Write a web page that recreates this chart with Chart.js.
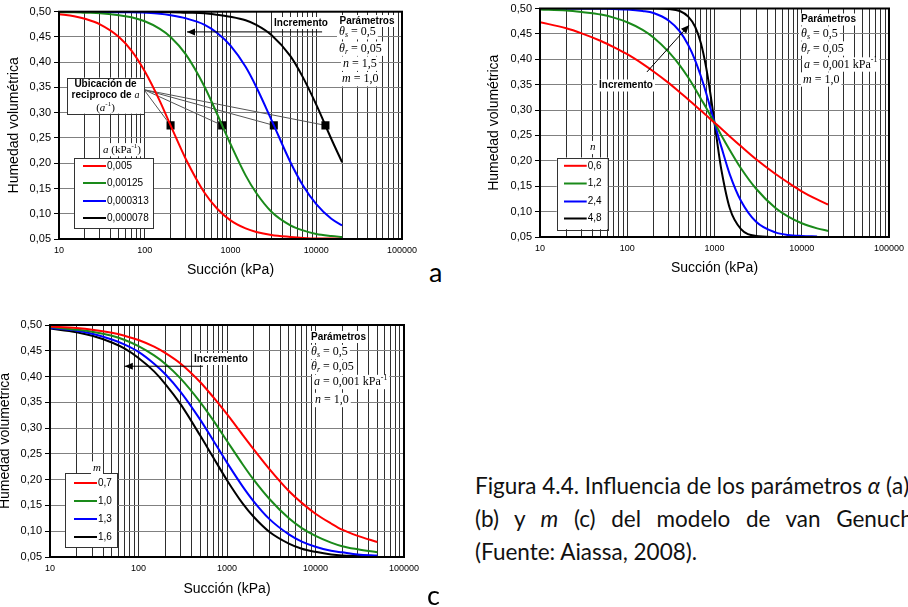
<!DOCTYPE html>
<html>
<head>
<meta charset="utf-8">
<script src="https://cdn.jsdelivr.net/npm/chart.js@4.4.1/dist/chart.umd.min.js"></script>
<style>
  body { margin: 0; width: 908px; height: 607px; overflow: hidden; background: #fff; position: relative; }
  .panel { position: absolute; }
  .letra { position: absolute; font: 27px Lato, sans-serif; line-height: 27px; color: #000; }
  #caption { position: absolute; left: 475px; top: 469px; width: 470px; font: 22.5px Lato, sans-serif; line-height: 33px; color: #111; }
  #caption div { white-space: nowrap; }
  #caption .just { white-space: normal; text-align: justify; text-align-last: justify; }
</style>
</head>
<body>
<div class="panel" style="left:0;top:0;width:427px;height:285px"><canvas id="chartA"></canvas></div>
<div class="panel" style="left:480px;top:0;width:434px;height:285px"><canvas id="chartB"></canvas></div>
<div class="panel" style="left:0;top:310px;width:429px;height:297px"><canvas id="chartC"></canvas></div>
<div class="letra" style="left:429px;top:258px">a</div>
<div class="letra" style="left:427px;top:581px">c</div>
<div id="caption">
  <div>Figura 4.4. Influencia de los parámetros <i>α</i> (a), <i>n</i></div>
  <div class="just">(b) y <i>m</i> (c) del modelo de van Genuchten</div>
  <div>(Fuente: Aiassa, 2008).</div>
</div>
<script>
// Curvas de retención - modelo de van Genuchten

// ---- Gráfico a: influencia de alfa ----
const succionA = [10, 15, 20, 30, 50, 70, 100, 150, 200, 300, 500, 700, 1000, 1500, 2000, 3000, 5000, 7000, 10000, 15000, 20000];
const humA_0005 = [0.495, 0.491, 0.486, 0.475, 0.450, 0.423, 0.382, 0.323, 0.275, 0.209, 0.141, 0.110, 0.087, 0.071, 0.064, 0.058, 0.054, 0.052, 0.051, 0.051, 0.050];
const humA_000125 = [0.499, 0.499, 0.498, 0.497, 0.493, 0.489, 0.481, 0.466, 0.450, 0.416, 0.351, 0.297, 0.238, 0.176, 0.141, 0.104, 0.077, 0.067, 0.060, 0.056, 0.054];
const humA_0000313 = [0.500, 0.500, 0.500, 0.500, 0.499, 0.499, 0.498, 0.496, 0.493, 0.487, 0.474, 0.458, 0.433, 0.391, 0.351, 0.286, 0.202, 0.156, 0.119, 0.090, 0.077];
const humA_0000078 = [0.500, 0.500, 0.500, 0.500, 0.500, 0.500, 0.500, 0.499, 0.499, 0.498, 0.497, 0.494, 0.490, 0.483, 0.474, 0.454, 0.412, 0.370, 0.316, 0.248, 0.202];
const alfaLabels = ['0,005', '0,00125', '0,000313', '0,000078'];
const reciprocoA = [200, 800, 3200, 12800];   // 1/alfa (kPa)
const humReciproco = 0.275;

// ---- Gráfico b: influencia de n ----
const succionB = [10, 20, 30, 50, 70, 100, 150, 200, 300, 400, 500, 600, 700, 800, 900, 1000, 1100, 1200, 1500, 2000, 3000, 5000, 7000, 10000, 15000, 20000];
const humB_06 = [0.473, 0.461, 0.451, 0.436, 0.424, 0.410, 0.391, 0.376, 0.353, 0.335, 0.321, 0.309, 0.299, 0.290, 0.282, 0.275, 0.269, 0.263, 0.248, 0.229, 0.203, 0.174, 0.157, 0.140, 0.124, 0.114];
const humB_12 = [0.498, 0.496, 0.493, 0.488, 0.482, 0.473, 0.458, 0.443, 0.414, 0.388, 0.364, 0.342, 0.322, 0.305, 0.289, 0.275, 0.262, 0.250, 0.221, 0.186, 0.145, 0.107, 0.090, 0.077, 0.067, 0.062];
const humB_24 = [0.500, 0.500, 0.500, 0.500, 0.499, 0.498, 0.495, 0.491, 0.476, 0.455, 0.428, 0.398, 0.366, 0.334, 0.303, 0.275, 0.249, 0.227, 0.173, 0.122, 0.080, 0.059, 0.054, 0.052, 0.051, null];
const humB_48 = [0.500, 0.500, 0.500, 0.500, 0.500, 0.500, 0.500, 0.500, 0.499, 0.495, 0.484, 0.464, 0.431, 0.385, 0.331, 0.275, 0.224, 0.182, 0.106, 0.066, 0.052, 0.050, null, null, null, null];
const nLabels = ['0,6', '1,2', '2,4', '4,8'];

// ---- Gráfico c: influencia de m ----
const succionC = [10, 20, 30, 50, 70, 100, 150, 200, 300, 500, 700, 1000, 1500, 2000, 3000, 5000, 7000, 10000, 15000, 20000, 30000, 50000];
const humC_07 = [0.497, 0.494, 0.491, 0.485, 0.479, 0.471, 0.458, 0.446, 0.425, 0.389, 0.360, 0.327, 0.287, 0.259, 0.221, 0.178, 0.155, 0.134, 0.115, 0.103, 0.091, 0.079];
const humC_10 = [0.496, 0.491, 0.487, 0.479, 0.471, 0.459, 0.441, 0.425, 0.396, 0.350, 0.315, 0.275, 0.230, 0.200, 0.163, 0.125, 0.106, 0.091, 0.078, 0.071, 0.065, 0.059];
const humC_13 = [0.494, 0.489, 0.483, 0.472, 0.462, 0.448, 0.425, 0.405, 0.370, 0.316, 0.276, 0.233, 0.187, 0.158, 0.124, 0.094, 0.080, 0.070, 0.062, 0.059, 0.055, 0.053];
const humC_16 = [0.493, 0.486, 0.479, 0.466, 0.454, 0.436, 0.410, 0.386, 0.346, 0.285, 0.243, 0.199, 0.154, 0.128, 0.099, 0.076, 0.066, 0.060, 0.055, 0.053, 0.052, 0.051];
const mLabels = ['0,7', '1,0', '1,3', '1,6'];

// Ejes
const xTickLabels = [10, 100, 1000, 10000, 100000];
const yTicks = [0.05, 0.10, 0.15, 0.20, 0.25, 0.30, 0.35, 0.40, 0.45, 0.50];
const curveColors = ['#ff0000', '#1a8a1a', '#0000ff', '#000000'];

// lineas de grilla: 1..9 por cada decada
const xGrid = [];
for (let d = 10; d < 100000; d *= 10) {
  for (let k = 1; k <= 9; k++) xGrid.push(k * d);
}
xGrid.push(100000);

const SERIF = "'Liberation Serif', 'DejaVu Serif', serif";
const SANS = "'Liberation Sans', Arial, sans-serif";
Chart.defaults.font.family = SANS;
Chart.defaults.color = '#000';

// Texto con partes en cursiva / subindice / superindice
function rich(ctx, x, y, segs, size, align, bg) {
  const fontOf = k => k === 'i' ? 'italic ' + size + 'px ' + SERIF :
    k === 'sub' ? 'italic ' + Math.round(size * 0.7) + 'px ' + SERIF :
    k === 'sup' ? Math.round(size * 0.65) + 'px ' + SERIF :
    k === 'b' ? 'bold ' + size + 'px ' + SANS :
    k === 's' ? size + 'px ' + SANS : size + 'px ' + SERIF;
  let w = 0;
  const widths = segs.map(([t, k]) => {
    ctx.font = fontOf(k);
    const m = ctx.measureText(t).width;
    w += m;
    return m;
  });
  let x0 = align === 'center' ? x - w / 2 : x;
  if (bg) {
    ctx.fillStyle = '#fff';
    ctx.fillRect(x0 - 2, y - size * 0.6, w + 4, size * 1.2);
  }
  ctx.fillStyle = '#000';
  ctx.textAlign = 'left';
  ctx.textBaseline = 'middle';
  segs.forEach(([t, k], i) => {
    ctx.font = fontOf(k);
    const dy = k === 'sub' ? size * 0.25 : k === 'sup' ? -size * 0.35 : 0;
    ctx.fillText(t, x0, y + dy);
    x0 += widths[i];
  });
  return w;
}

function arrow(ctx, a, b) {
  ctx.strokeStyle = '#000';
  ctx.lineWidth = 1;
  ctx.beginPath();
  ctx.moveTo(a[0], a[1]);
  ctx.lineTo(b[0], b[1]);
  ctx.stroke();
  const ang = Math.atan2(b[1] - a[1], b[0] - a[0]);
  const L = 8, W = 3.5;
  ctx.beginPath();
  ctx.moveTo(b[0], b[1]);
  ctx.lineTo(b[0] - L * Math.cos(ang) + W * Math.sin(ang), b[1] - L * Math.sin(ang) - W * Math.cos(ang));
  ctx.lineTo(b[0] - L * Math.cos(ang) - W * Math.sin(ang), b[1] - L * Math.sin(ang) + W * Math.cos(ang));
  ctx.closePath();
  ctx.fillStyle = '#000';
  ctx.fill();
}

function legendBox(ctx, R, spec, labels) {
  const p1 = R(spec.box[0], spec.box[1]);
  const p2 = R(spec.box[2], spec.box[3]);
  ctx.fillStyle = '#fff';
  ctx.fillRect(p1[0], p1[1], p2[0] - p1[0], p2[1] - p1[1]);
  ctx.strokeStyle = '#333';
  ctx.lineWidth = 1;
  ctx.strokeRect(Math.round(p1[0]) + 0.5, Math.round(p1[1]) + 0.5, Math.round(p2[0] - p1[0]), Math.round(p2[1] - p1[1]));
  const tp = R(spec.title[0], spec.title[1]);
  rich(ctx, tp[0], tp[1], spec.titleSegs, 11, 'center', true);
  labels.forEach((lab, i) => {
    const y = R(0, spec.rows[i])[1];
    const x1 = R(spec.line[0], 0)[0], x2 = R(spec.line[1], 0)[0];
    ctx.strokeStyle = curveColors[i];
    ctx.lineWidth = 2;
    ctx.beginPath();
    ctx.moveTo(x1, y);
    ctx.lineTo(x2, y);
    ctx.stroke();
    ctx.font = '10px ' + SANS;
    ctx.fillStyle = '#000';
    ctx.textAlign = 'left';
    ctx.textBaseline = 'middle';
    ctx.fillText(lab, x2 + 1, y);
  });
}

function params(ctx, R, spec) {
  const h = R(spec.head[0], spec.head[1]);
  rich(ctx, h[0], h[1], [['Parámetros', 'b']], 10, spec.headAlign, true);
  spec.lines.forEach(ln => {
    const p = R(ln.x, ln.y);
    rich(ctx, p[0], p[1], ln.segs, 12, 'left', true);
  });
}

function helpers(chart) {
  const ca = chart.chartArea;
  return {
    P: (x, y) => [chart.scales.x.getPixelForValue(x), chart.scales.y.getPixelForValue(y)],
    R: (dx, dy) => [ca.left + dx, ca.top + dy]
  };
}

// anotaciones propias de cada grafico (fuera de options para que no se resuelvan como scriptable)
function notesPlugin(notes) {
  return {
    id: 'notes',
    beforeDatasetsDraw(chart) {
      if (notes.under) {
        chart.ctx.save();
        notes.under(chart.ctx, helpers(chart));
        chart.ctx.restore();
      }
    },
    afterDatasetsDraw(chart) {
      const ctx = chart.ctx, ca = chart.chartArea;
      ctx.save();
      ctx.strokeStyle = '#000';
      ctx.lineWidth = 2;
      ctx.strokeRect(ca.left, ca.top, ca.right - ca.left, ca.bottom - ca.top);
      if (notes.over) notes.over(ctx, helpers(chart));
      ctx.restore();
    }
  };
}

function serie(xs, ys, i) {
  return {
    data: xs.map((x, k) => ({ x: x, y: ys[k] })),
    borderColor: curveColors[i],
    borderWidth: 2,
    pointRadius: 0,
    fill: false,
    cubicInterpolationMode: 'monotone'
  };
}

function buildChart(id, datasets, lay, notes) {
  return new Chart(document.getElementById(id), {
    type: 'line',
    data: { datasets: datasets },
    options: {
      responsive: true,
      maintainAspectRatio: false,
      animation: false,
      layout: { padding: { left: 0, top: lay.top, right: 25, bottom: 0 } },
      plugins: {
        legend: { display: false },
        tooltip: { enabled: false }
      },
      scales: {
        x: {
          type: 'logarithmic',
          min: 10,
          max: 100000,
          afterBuildTicks: s => { s.ticks = xGrid.map(v => ({ value: v })); },
          afterFit: s => { s.height = lay.xh; },
          ticks: {
            autoSkip: false,
            maxRotation: 0,
            minRotation: 0,
            padding: 6,
            font: { size: 9 },
            color: '#000',
            callback: v => xTickLabels.includes(v) ? String(v) : ''
          },
          grid: { color: '#2e2e2e', lineWidth: 1, drawTicks: false },
          border: { color: '#000', width: 2 },
          title: {
            display: true,
            text: 'Succión (kPa)',
            color: '#000',
            font: { size: 14, lineHeight: 1 },
            padding: { top: 0, bottom: lay.xtp }
          }
        },
        y: {
          min: 0.05,
          max: 0.5,
          afterBuildTicks: s => { s.ticks = yTicks.map(v => ({ value: v })); },
          afterFit: s => { s.width = lay.yw; },
          ticks: {
            padding: 3,
            font: { size: 11, lineHeight: 1 },
            color: '#000',
            callback: v => v.toFixed(2).replace('.', ',')
          },
          grid: { color: '#808080', lineWidth: 1, drawTicks: true, tickLength: 5, tickColor: '#000' },
          border: { color: '#000', width: 2 },
          title: {
            display: true,
            text: 'Humedad volumétrica',
            color: '#000',
            font: { size: 14, lineHeight: 1 },
            padding: { top: lay.ytp, bottom: 0 }
          }
        }
      }
    },
    plugins: [notesPlugin(notes)]
  });
}

// ---------- a ----------
const notesA = {
  under(ctx, { P, R }) {
    ctx.strokeStyle = '#555';
    ctx.lineWidth = 1;
    const o = R(85, 78);
    reciprocoA.forEach(r => {
      const p = P(r, humReciproco);
      ctx.beginPath();
      ctx.moveTo(o[0], o[1]);
      ctx.lineTo(p[0], p[1]);
      ctx.stroke();
    });
  },
  over(ctx, { P, R }) {
    // caja "Ubicación de recíproco"
    const b1 = R(8, 66), b2 = R(85, 102);
    ctx.fillStyle = '#fff';
    ctx.fillRect(b1[0], b1[1], b2[0] - b1[0], b2[1] - b1[1]);
    ctx.strokeStyle = '#333';
    ctx.lineWidth = 1;
    ctx.strokeRect(Math.round(b1[0]) + 0.5, Math.round(b1[1]) + 0.5, Math.round(b2[0] - b1[0]), Math.round(b2[1] - b1[1]));
    const c = R(46.5, 73);
    rich(ctx, c[0], c[1], [['Ubicación de', 'b']], 10, 'center', false);
    rich(ctx, c[0], c[1] + 10.5, [['reciproco de ', 'b'], ['a', 'i']], 10, 'center', false);
    rich(ctx, c[0], c[1] + 23, [['(', 'r'], ['a', 'i'], ['-1', 'sup'], [')', 'r']], 11, 'center', false);

    // Incremento
    arrow(ctx, P(11700, 0.46), P(311, 0.46));
    const t = R(242, 11.3);
    rich(ctx, t[0], t[1], [['Incremento', 'b']], 10, 'center', true);

    params(ctx, R, {
      head: [308, 9.3], headAlign: 'center',
      lines: [
        { x: 280, y: 20.5, segs: [['θ', 'i'], ['s', 'sub'], [' = 0,5', 'r']] },
        { x: 280, y: 37, segs: [['θ', 'i'], ['r', 'sub'], [' = 0,05', 'r']] },
        { x: 284, y: 52, segs: [['n', 'i'], [' = 1,5', 'r']] },
        { x: 283, y: 67.5, segs: [['m', 'i'], [' = 1,0', 'r']] }
      ]
    });

    legendBox(ctx, R, {
      box: [15, 146.5, 94, 216.5],
      title: [63, 138],
      titleSegs: [['a', 'i'], [' (kPa', 'r'], ['-1', 'sup'], [')', 'r']],
      line: [24, 47],
      rows: [154.3, 171.3, 189.3, 206.3]
    }, alfaLabels);
  }
};

const dsA = [
  serie(succionA, humA_0005, 0),
  serie(succionA, humA_000125, 1),
  serie(succionA, humA_0000313, 2),
  serie(succionA, humA_0000078, 3),
  {
    type: 'scatter',
    data: reciprocoA.map(r => ({ x: r, y: humReciproco })),
    pointStyle: 'rect',
    pointRadius: 5.7,
    backgroundColor: '#000',
    borderWidth: 0,
    showLine: false
  }
];
buildChart('chartA', dsA, { top: 11.7, yw: 59, xh: 46, xtp: 8, ytp: 7 }, notesA);

// ---------- b ----------
const notesB = {
  over(ctx, { P, R }) {
    arrow(ctx, P(168, 0.375), P(509, 0.467));
    const t = R(86, 77);
    rich(ctx, t[0], t[1], [['Incremento', 'b']], 10, 'center', true);
    params(ctx, R, {
      head: [261, 11], headAlign: 'left',
      lines: [
        { x: 261, y: 25, segs: [['θ', 'i'], ['s', 'sub'], [' = 0,5', 'r']] },
        { x: 261, y: 40, segs: [['θ', 'i'], ['r', 'sub'], [' = 0,05', 'r']] },
        { x: 264, y: 56, segs: [['a', 'i'], [' = 0,001 kPa', 'r'], ['-1', 'sup']] },
        { x: 263, y: 71, segs: [['m', 'i'], [' = 1,0', 'r']] }
      ]
    });
    legendBox(ctx, R, {
      box: [16.7, 149, 67.7, 220.7],
      title: [52.7, 139],
      titleSegs: [['n', 'i']],
      line: [24, 46.7],
      rows: [157.3, 175, 193, 210]
    }, nLabels);
  }
};

buildChart('chartB', [
  serie(succionB, humB_06, 0),
  serie(succionB, humB_12, 1),
  serie(succionB, humB_24, 2),
  serie(succionB, humB_48, 3)
], { top: 6, yw: 60, xh: 48, xtp: 10, ytp: 7 }, notesB);

// ---------- c ----------
const notesC = {
  over(ctx, { P, R }) {
    arrow(ctx, P(536, 0.42), P(70, 0.42));
    const t = R(171, 34);
    rich(ctx, t[0], t[1], [['Incremento', 'b']], 10, 'center', true);
    params(ctx, R, {
      head: [261, 12], headAlign: 'left',
      lines: [
        { x: 261, y: 27, segs: [['θ', 'i'], ['s', 'sub'], [' = 0,5', 'r']] },
        { x: 261, y: 42, segs: [['θ', 'i'], ['r', 'sub'], [' = 0,05', 'r']] },
        { x: 264, y: 57, segs: [['a', 'i'], [' = 0,001 kPa', 'r'], ['-1', 'sup']] },
        { x: 265, y: 75, segs: [['n', 'i'], [' = 1,0', 'r']] }
      ]
    });
    legendBox(ctx, R, {
      box: [15, 148, 67, 222],
      title: [47, 143],
      titleSegs: [['m', 'i']],
      line: [24, 47],
      rows: [158, 176, 194, 212]
    }, mLabels);
  }
};

buildChart('chartC', [
  serie(succionC, humC_07, 0),
  serie(succionC, humC_10, 1),
  serie(succionC, humC_13, 2),
  serie(succionC, humC_16, 3)
], { top: 15, yw: 50, xh: 50, xtp: 11, ytp: -2 }, notesC);
</script>
</body>
</html>
